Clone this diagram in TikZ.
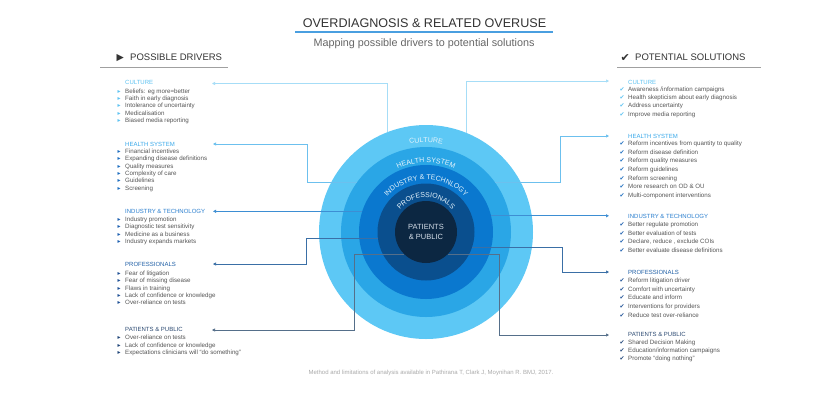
\documentclass[tikz,border=0pt]{standalone}
\usepackage{fontspec}
\setmainfont{Liberation Sans}
\newfontfamily\symf{DejaVu Sans}
\usetikzlibrary{decorations.text,arrows.meta}
\definecolor{ringA}{HTML}{5DC8F5}
\definecolor{ringB}{HTML}{2AA6E6}
\definecolor{ringC}{HTML}{0A78CF}
\definecolor{ringD}{HTML}{0A4F8E}
\definecolor{ringE}{HTML}{0C2742}
\definecolor{ringtext}{HTML}{E6F4FC}
\definecolor{pattext}{HTML}{D5DEE8}
\definecolor{txtgrey}{HTML}{555555}
\definecolor{darkgrey}{HTML}{333333}
\definecolor{hcult}{HTML}{5CC2F2}
\definecolor{hhealth}{HTML}{39A9EA}
\definecolor{hind}{HTML}{2A7FCF}
\definecolor{hprof}{HTML}{1F5FA6}
\definecolor{hpat}{HTML}{2C4A72}
\definecolor{lcult}{HTML}{A6DDF7}
\definecolor{lhealth}{HTML}{6CC0EE}
\definecolor{lind}{HTML}{3D8ED3}
\definecolor{lprof}{HTML}{3A6FA6}
\definecolor{lpat}{HTML}{556F8A}
\definecolor{bcult}{HTML}{5CC2F2}
\definecolor{bhealth}{HTML}{1C6DC0}
\definecolor{bind}{HTML}{1C5FB0}
\definecolor{bprof}{HTML}{1D4F95}
\definecolor{bpat}{HTML}{1E4478}
\definecolor{titleblue}{HTML}{4A9FE0}
\definecolor{rulegrey}{HTML}{A0A0A0}
\definecolor{footgrey}{HTML}{AAAAAA}
\newcommand\ringfont{\fontsize{7}{8}\selectfont\color{ringtext}}
\newcommand\mylist[7]{%
  \foreach \t [count=\i] in {#7}{%
    \node[bul] (#1b\i) at (#2,{-(#5+(\i-1)*#6)}) {#4};
    \node[item] (#1\i) at (#3,{-(#5+(\i-1)*#6)}) {\t};
  }}
\tikzset{
  item/.style={anchor=base west, inner sep=0, font=\fontsize{6.2}{7}\selectfont, text=txtgrey},
  bul/.style={anchor=base west, inner sep=0, font=\fontsize{6}{7}\selectfont\symf},
  hdr/.style={anchor=base west, inner sep=0, font=\fontsize{6}{7}\selectfont},
  ring/.style={circle, inner sep=0, outer sep=0, draw=none},
  conn/.style={line width=0.7pt},
  tipL/.style={{Triangle[length=3pt,width=3pt]}-},
  tipR/.style={-{Triangle[length=3pt,width=3pt]}},
}
\begin{document}
\begin{tikzpicture}[x=1pt,y=1pt]
\fill[white] (0,0) rectangle (830,-400);
\useasboundingbox (0,0) rectangle (830,-400);

% title
\node[anchor=base, inner sep=0, font=\fontsize{12.6}{14}\selectfont, text=darkgrey] (title) at (424.5,-27.5) {OVERDIAGNOSIS \& RELATED OVERUSE};
\draw[titleblue, line width=1.2pt] (295,-32) -- (553,-32);
\node[anchor=base, inner sep=0, font=\fontsize{10.8}{12}\selectfont, text=txtgrey!90] (subtitle) at (424,-46.5) {Mapping possible drivers to potential solutions};

% column headers
\node[anchor=base west, inner sep=0, font=\fontsize{9.5}{11}\selectfont\symf, text=darkgrey] (tri) at (116.5,-60.4) {▶};
\node[anchor=base west, inner sep=0, font=\fontsize{9.5}{11}\selectfont, text=darkgrey] (drivers) at (130,-60.4) {POSSIBLE DRIVERS};
\draw[rulegrey, line width=0.8pt] (100,-67) -- (228,-67);
\node[anchor=base west, inner sep=0, font=\fontsize{11}{12}\selectfont\symf, text=darkgrey] (chk) at (620.5,-61) {✔};
\node[anchor=base west, inner sep=0, font=\fontsize{9.5}{11}\selectfont, text=darkgrey] (solutions) at (635,-60.4) {POTENTIAL SOLUTIONS};
\draw[rulegrey, line width=0.8pt] (617,-67) -- (761,-67);

% circles
\node[ring, fill=ringA, minimum size=214] (c1) at (426,-232) {};
\node[ring, fill=ringB, minimum size=170] (c2) at (426,-232) {};
\node[ring, fill=ringC, minimum size=134] (c3) at (426,-232) {};
\node[ring, fill=ringD, minimum size=97] (c4) at (426,-232) {};
\node[ring, fill=ringE, minimum size=62] (c5) at (426,-232) {};

% ring labels
\path[decorate, decoration={text along path, text align=center, text={|\ringfont|CULTURE}}]
  (426,-232) ++(150:89.5) arc[start angle=150, end angle=30, radius=89.5];
\path[decorate, decoration={text along path, text align=center, text={|\ringfont|HEALTH SYSTEM}}]
  (426,-232) ++(165:69.5) arc[start angle=165, end angle=15, radius=69.5];
\path[decorate, decoration={text along path, text align=center, text={|\ringfont|INDUSTRY {\&} TECHNLOGY}}]
  (426,-232) ++(175:52.5) arc[start angle=175, end angle=5, radius=52.5];
\path[decorate, decoration={text along path, text align=center, text={|\ringfont|PROFESSIONALS}}]
  (426,-232) ++(178:34.5) arc[start angle=178, end angle=2, radius=34.5];
\node[align=center, inner sep=0, font=\fontsize{7.5}{10}\selectfont, text=pattext] (pp) at (426,-232) {PATIENTS\\\& PUBLIC};

% anchor coordinates
\coordinate (tL1) at (212,-83.5);
\coordinate (tL2) at (213,-144);
\coordinate (tL3) at (213,0);
\coordinate (tL4) at (213,-264);
\coordinate (tL5) at (212,-330);
\coordinate (tR1) at (609,-81);
\coordinate (tR2) at (609,-136);
\coordinate (tR3) at (609,0);
\coordinate (tR4) at (609,-272);
\coordinate (tR5) at (609,-335);
\coordinate (k2) at (307,0);
\coordinate (k4) at (306,0);
\coordinate (k5) at (354,0);
\coordinate (k6) at (560,0);
\coordinate (k7) at (562,0);
\coordinate (k8) at (499,0);

% left connectors
\draw[conn, lcult, tipL] (tL1) -| (c1.111);
\draw[conn, lhealth, tipL] (tL2) -| (c2.144 -| k2) -- (c2.144);
\draw[conn, lind, tipL] (c3.162 -| tL3) -- (c3.162);
\draw[conn, lprof, tipL] (tL4) -| (c4.188 -| k4) -- (c4.188);
\draw[conn, lpat, tipL] (tL5) -| (c5.225 -| k5) -- (c5.225);

% right connectors
\draw[conn, lcult, tipR] (c1.68) |- (tR1);
\draw[conn, lhealth, tipR] (c2.36) -- (c2.36 -| k6) |- (tR2);
\draw[conn, lind, tipR] (c3.14) -- (c3.14 -| tR3);
\draw[conn, lprof, tipR] (c4.342) -- (c4.342 -| k7) |- (tR4);
\draw[conn, lpat, tipR] (c5.315) -- (c5.315 -| k8) |- (tR5);

% left lists
\node[hdr, text=hcult] (hl1) at (125,-84.2) {CULTURE};
\mylist{la}{117.5}{125}{\textcolor{bcult}{▸}}{93.2}{7.3}{{Beliefs:  eg more=better},{Faith in early diagnosis},{Intolerance of uncertainty},{Medicalisation},{Biased media reporting}}
\node[hdr, text=hhealth] (hl2) at (125,-146.2) {HEALTH SYSTEM};
\mylist{lb}{117.5}{125}{\textcolor{bhealth}{▸}}{153.2}{7.4}{{Financial incentives},{Expanding disease definitions},{Quality measures},{Complexity of care},{Guidelines},{Screening}}
\node[hdr, text=hind] (hl3) at (125,-213.2) {INDUSTRY \& TECHNOLOGY};
\mylist{lc}{117.5}{125}{\textcolor{bind}{▸}}{221.2}{7.4}{{Industry promotion},{Diagnostic test sensitivity},{Medicine as a business},{Industry expands markets}}
\node[hdr, text=hprof] (hl4) at (125,-266.2) {PROFESSIONALS};
\mylist{ld}{117.5}{125}{\textcolor{bprof}{▸}}{275.2}{7.4}{{Fear of litigation},{Fear of missing disease},{Flaws in training},{Lack of confidence or knowledge},{Over-reliance on tests}}
\node[hdr, text=hpat] (hl5) at (125,-331.7) {PATIENTS \& PUBLIC};
\mylist{le}{117.5}{125}{\textcolor{bpat}{▸}}{339.7}{7.4}{{Over-reliance on tests},{Lack of confidence or knowledge},{Expectations clinicians will “do something”}}

% right lists
\node[hdr, text=hcult] (hr1) at (628,-84.2) {CULTURE};
\mylist{ra}{619.5}{628}{\textcolor{bcult}{✔}}{91.2}{8.3}{{Awareness /information campaigns},{Health skepticism about early diagnosis},{Address uncertainty},{Improve media  reporting}}
\node[hdr, text=hhealth] (hr2) at (628,-138.2) {HEALTH SYSTEM};
\mylist{rb}{619.5}{628}{\textcolor{bhealth}{✔}}{145.7}{8.6}{{Reform incentives from quantity to quality},{Reform disease definition},{Reform quality measures},{Reform guidelines},{Reform screening},{More research on OD \& OU},{Multi-component interventions}}
\node[hdr, text=hind] (hr3) at (628,-218.2) {INDUSTRY \& TECHNOLOGY};
\mylist{rc}{619.5}{628}{\textcolor{bind}{✔}}{226.7}{8.6}{{Better regulate  promotion},{Better evaluation of tests},{Declare, reduce , exclude COIs},{Better evaluate disease definitions}}
\node[hdr, text=hprof] (hr4) at (628,-274.2) {PROFESSIONALS};
\mylist{rd}{619.5}{628}{\textcolor{bprof}{✔}}{282.7}{8.6}{{Reform litigation driver},{Comfort with uncertainty},{Educate and inform},{Interventions for providers},{Reduce test over-reliance}}
\node[hdr, text=hpat] (hr5) at (628,-336.2) {PATIENTS \& PUBLIC};
\mylist{re}{619.5}{628}{\textcolor{bpat}{✔}}{344.2}{8.3}{{Shared Decision Making},{Education/information campaigns},{Promote “doing nothing”}}

% footer
\node[anchor=base, inner sep=0, font=\fontsize{6}{7}\selectfont, text=footgrey] (foot) at (431,-374) {Method and limitations of analysis available in Pathirana T, Clark J, Moynihan R. BMJ, 2017.};
\end{tikzpicture}
\end{document}
